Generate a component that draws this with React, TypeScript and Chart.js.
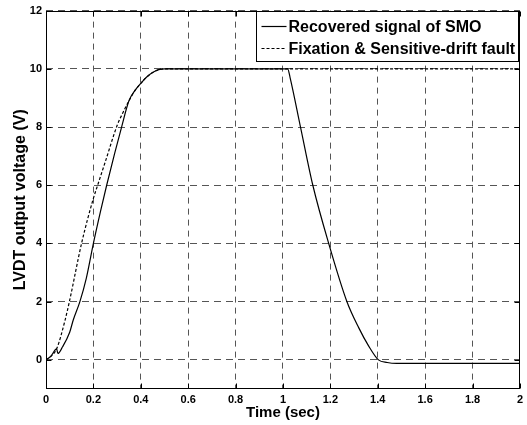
import { useEffect, useRef } from "react";
import { Chart, registerables } from "chart.js";

Chart.register(...registerables);

const xTicks = [0, 0.2, 0.4, 0.6, 0.8, 1, 1.2, 1.4, 1.6, 1.8, 2];
const yTicks = [0, 2, 4, 6, 8, 10, 12];

const recoveredT = [0, 0.02, 0.045, 0.05, 0.07, 0.1, 0.115, 0.143, 0.17, 0.2, 0.23, 0.256, 0.29, 0.319, 0.35, 0.375, 0.4, 0.425, 0.45, 0.475, 0.5, 1.02, 1.03, 1.074, 1.126, 1.193, 1.27, 1.32, 1.36, 1.403, 1.44, 1.48, 2];
const recoveredV = [0, 0.12, 0.38, 0.22, 0.45, 0.95, 1.37, 2, 2.8, 4, 5.1, 6, 7.1, 8, 8.9, 9.25, 9.5, 9.72, 9.87, 9.97, 10, 10, 9.7, 8, 6, 4, 2, 1.1, 0.5, 0, -0.09, -0.12, -0.12];

const faultT = [0, 0.02, 0.045, 0.08, 0.1, 0.15, 0.2, 0.22, 0.25, 0.3, 0.325, 0.35, 0.375, 0.4, 0.425, 0.45, 0.475, 0.5, 2];
const faultV = [0, 0.12, 0.38, 1.35, 2.05, 4, 5.55, 6.05, 6.8, 8.05, 8.5, 8.9, 9.25, 9.5, 9.72, 9.87, 9.97, 10, 10];

const legendLabels = ["Recovered signal of SMO", "Fixation & Sensitive-drift fault"];
const xTitle = "Time (sec)";
const yTitle = "LVDT output voltage (V)";

const FONT = "'Liberation Sans', Arial, Helvetica, sans-serif";

const framePlugin = {
  id: "frame",
  afterDraw(chart: any) {
    const { ctx, chartArea, scales } = chart;
    const { left, right, top, bottom } = chartArea;
    const xs = scales.x;
    const ys = scales.y;
    const L = Math.round(left) + 0.5;
    const R = Math.round(right) - 0.5;
    const T = Math.round(top) + 0.5;
    const B = Math.round(bottom) - 0.5;
    ctx.save();
    ctx.setLineDash([]);
    ctx.strokeStyle = "#000";
    ctx.lineWidth = 1;
    ctx.strokeRect(L, T, R - L, B - T);
    const tl = 5;
    ctx.beginPath();
    for (const v of xTicks) {
      const p = Math.round(xs.getPixelForValue(v)) + 0.5;
      ctx.moveTo(p, B);
      ctx.lineTo(p, B - tl);
      ctx.moveTo(p, T);
      ctx.lineTo(p, T + tl);
    }
    for (const v of yTicks) {
      const p = Math.round(ys.getPixelForValue(v)) + 0.5;
      ctx.moveTo(L, p);
      ctx.lineTo(L + tl, p);
      ctx.moveTo(R, p);
      ctx.lineTo(R - tl, p);
    }
    ctx.stroke();

    // legend
    ctx.font = `bold 16px ${FONT}`;
    const tw = Math.max(...legendLabels.map((s) => ctx.measureText(s).width));
    const sample = 25;
    const padL = 5;
    const gap = 2;
    const padR = 3;
    const w = Math.round(padL + sample + gap + tw + padR);
    const h = 50;
    const bx = R - 1 - w;
    const by = T;
    ctx.fillStyle = "#fff";
    ctx.fillRect(bx, by, w, h);
    ctx.strokeRect(bx, by, w, h);
    const rows = [by + 15, by + 37];
    const dashes = [[], [3, 2]];
    ctx.lineWidth = 1.2;
    rows.forEach((ry, i) => {
      ctx.beginPath();
      ctx.setLineDash(dashes[i]);
      ctx.moveTo(bx + padL, ry);
      ctx.lineTo(bx + padL + sample, ry);
      ctx.stroke();
    });
    ctx.setLineDash([]);
    ctx.fillStyle = "#000";
    ctx.textAlign = "left";
    ctx.textBaseline = "middle";
    rows.forEach((ry, i) => {
      ctx.fillText(legendLabels[i], bx + padL + sample + gap, ry + 1);
    });
    ctx.restore();
  },
};

export default function App() {
  const ref = useRef<HTMLCanvasElement | null>(null);
  useEffect(() => {
    if (!ref.current) return;
    const chart = new Chart(ref.current, {
      type: "line",
      data: {
        datasets: [
          {
            label: legendLabels[1],
            data: faultT.map((t, i) => ({ x: t, y: faultV[i] })),
            borderColor: "#000",
            borderWidth: 1.2,
            borderDash: [3, 2],
            pointRadius: 0,
            fill: false,
            cubicInterpolationMode: "monotone",
          },
          {
            label: legendLabels[0],
            data: recoveredT.map((t, i) => ({ x: t, y: recoveredV[i] })),
            borderColor: "#000",
            borderWidth: 1.2,
            pointRadius: 0,
            fill: false,
            cubicInterpolationMode: "monotone",
          },
        ],
      },
      options: {
        responsive: false,
        animation: false,
        devicePixelRatio: 1,
        layout: { padding: { top: 10, right: 6, left: 0, bottom: 0 } },
        plugins: {
          legend: { display: false },
          tooltip: { enabled: false },
        },
        scales: {
          x: {
            type: "linear",
            min: 0,
            max: 2,
            afterBuildTicks: (axis: any) => {
              axis.ticks = xTicks.map((v) => ({ value: v }));
            },
            afterFit: (scale: any) => {
              scale.height = 36;
            },
            grid: {
              color: "#555",
              lineWidth: 1,
              drawTicks: false,
            },
            border: { display: false, dash: [6, 5] },
            ticks: {
              padding: 4,
              color: "#000",
              font: { family: FONT, size: 11, weight: "bold" },
              maxRotation: 0,
              autoSkip: false,
              callback: (v: any) => String(Math.round(Number(v) * 10) / 10),
            },
            title: {
              display: true,
              text: xTitle,
              color: "#000",
              font: { family: FONT, size: 15, weight: "bold" },
              padding: { top: 0, bottom: 3 },
            },
          },
          y: {
            type: "linear",
            min: -1,
            max: 12,
            afterBuildTicks: (axis: any) => {
              axis.ticks = yTicks.map((v) => ({ value: v }));
            },
            afterFit: (scale: any) => {
              scale.width = 46;
            },
            grid: {
              color: "#555",
              lineWidth: 1,
              drawTicks: false,
            },
            border: { display: false, dash: [7, 5] },
            ticks: {
              padding: 4,
              color: "#000",
              font: { family: FONT, size: 11, weight: "bold" },
              autoSkip: false,
            },
            title: {
              display: true,
              text: yTitle,
              color: "#000",
              font: { family: FONT, size: 16, weight: "bold" },
              padding: { top: 11.4, bottom: 0 },
            },
          },
        },
      },
      plugins: [framePlugin],
    } as any);
    return () => chart.destroy();
  }, []);
  return (
    <div style={{ position: "fixed", left: 0, top: 0, width: 527, height: 425, background: "#fff" }}>
      <canvas ref={ref} width={527} height={425} style={{ display: "block", width: 527, height: 425 }} />
    </div>
  );
}
